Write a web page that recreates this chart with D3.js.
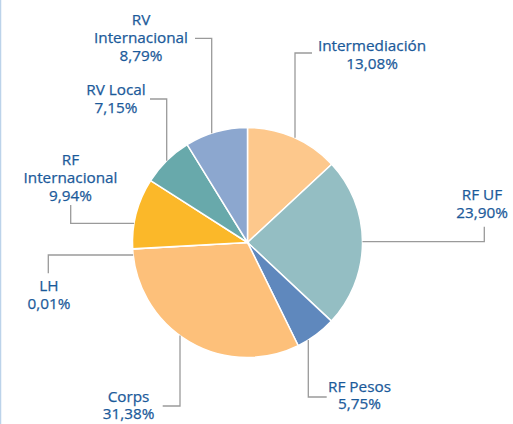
<!DOCTYPE html>
<html>
<head>
<meta charset="utf-8">
<script src="https://cdn.jsdelivr.net/npm/d3@7"></script>
<style>
  body { margin: 0; background: #fff; }
  svg { display: block; }
  text { font-family: "Open Sans", sans-serif; font-size: 15.3px; fill: #1b5a9a; stroke: #1b5a9a; stroke-width: 0.25px; }
</style>
</head>
<body>
<svg id="chart" width="513" height="424"></svg>
<script>
// data, clockwise from 12 o'clock
const categories = ["Intermediación", "RF UF", "RF Pesos", "Corps", "LH", "RF Internacional", "RV Local", "RV Internacional"];
const values = [13.08, 23.90, 5.75, 31.38, 0.01, 9.94, 7.15, 8.79];
const labelLines = [["Intermediación"], ["RF UF"], ["RF Pesos"], ["Corps"], ["LH"], ["RF", "Internacional"], ["RV Local"], ["RV", "Internacional"]];
const colors = ["#fdc88c", "#94bec3", "#5f88bd", "#fdc07a", "#fdc07a", "#fbb829", "#68a9ab", "#8ca7cf"];

const svg = d3.select('#chart');
const cx = 247.5, cy = 242.5, r = 115;
const lineH = 17.8;

// light border on the left edge
svg.append('line').attr('x1', 0.5).attr('x2', 0.5).attr('y1', 0).attr('y2', 424)
  .attr('stroke', '#bcd3ea').attr('stroke-width', 1.5);

const pie = d3.pie().sort(null).value(d => d.value);
const arc = d3.arc().innerRadius(0).outerRadius(r);
const data = categories.map((c, i) => ({name: c, value: values[i], color: colors[i], lines: labelLines[i]}));

const g = svg.append('g').attr('transform', `translate(${cx},${cy})`);
g.selectAll('path').data(pie(data)).enter().append('path')
  .attr('d', arc)
  .attr('fill', d => d.data.color)
  .attr('stroke', '#fff')
  .attr('stroke-width', 1.5);

// label placement: leader kind (v = leaves pie vertically, h = horizontally), elbow, end, text centre
const layout = {
  "Intermediación":   {kind: 'v', at: 295,   elbow: 53,    end: 312,   tx: 372,   ty: 51},
  "RF UF":            {kind: 'h', at: 241.7, elbow: 484.3, end: 226.7, tx: 482,   ty: 200},
  "RF Pesos":         {kind: 'v', at: 308.3, elbow: 397,   end: 326.7, tx: 359.5, ty: 391.5},
  "Corps":            {kind: 'v', at: 180,   elbow: 406,   end: 162.7, tx: 128.5, ty: 401.5},
  "LH":               {kind: 'h', at: 255,   elbow: 48.3,  end: 273.3, tx: 49,    ty: 291},
  "RF Internacional": {kind: 'h', at: 223.3, elbow: 70.7,  end: 205,   tx: 70.5,  ty: 165},
  "RV Local":         {kind: 'v', at: 166.7, elbow: 99,    end: 150,   tx: 116,   ty: 95},
  "RV Internacional": {kind: 'v', at: 211.7, elbow: 38.3,  end: 195,   tx: 141,   ty: 25}
};

const fmt = v => d3.format('.2f')(v).replace('.', ',') + '%';

data.forEach(d => {
  const L = layout[d.name];
  let pts;
  if (L.kind === 'v') {
    const dy = Math.sqrt(r * r - (L.at - cx) ** 2);
    const y0 = L.elbow < cy ? cy - dy : cy + dy;
    pts = [[L.at, y0], [L.at, L.elbow], [L.end, L.elbow]];
  } else {
    const dx = Math.sqrt(r * r - (L.at - cy) ** 2);
    const x0 = L.elbow < cx ? cx - dx : cx + dx;
    pts = [[x0, L.at], [L.elbow, L.at], [L.elbow, L.end]];
  }
  svg.append('path').attr('d', d3.line()(pts))
    .attr('fill', 'none').attr('stroke', '#9a9a9a').attr('stroke-width', 1.3);

  const t = svg.append('text').attr('text-anchor', 'middle');
  d.lines.concat([fmt(d.value)]).forEach((s, i) => {
    t.append('tspan').attr('x', L.tx).attr('y', L.ty + i * lineH).text(s);
  });
});
</script>
</body>
</html>
